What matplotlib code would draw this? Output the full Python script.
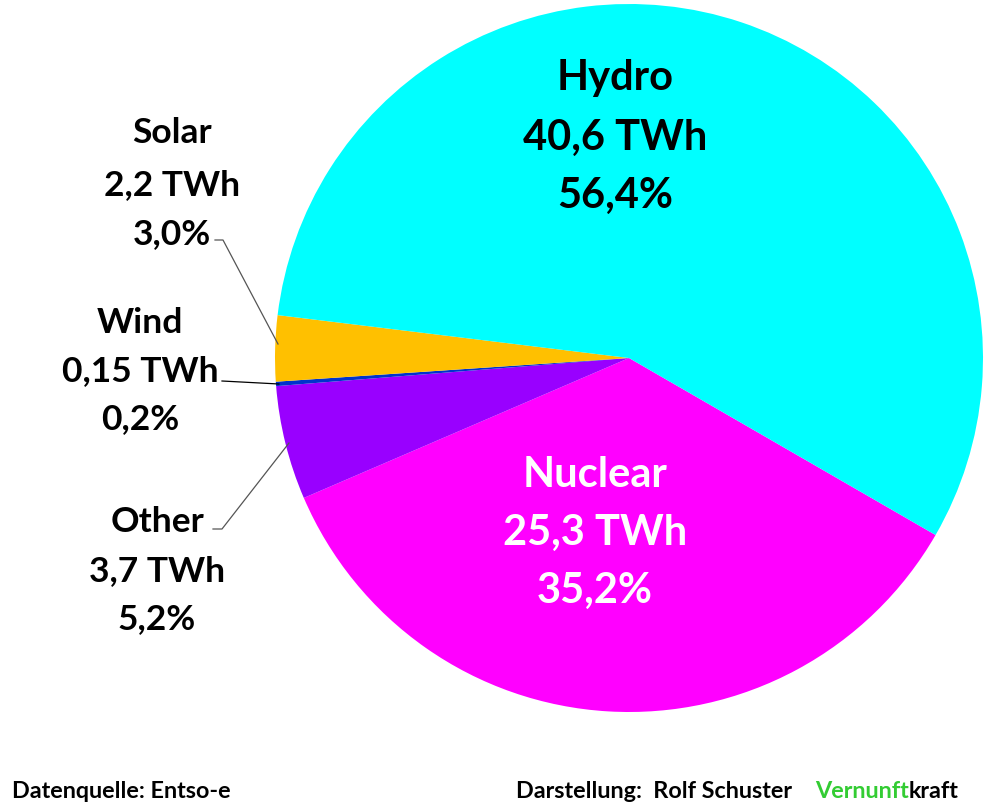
import matplotlib.pyplot as plt

# data, clockwise starting at the lower right
sources = ["Nuclear", "Other", "Wind", "Solar", "Hydro"]
twh_labels = ["25,3", "3,7", "0,15", "2,2", "40,6"]
shares = [35.2, 5.2, 0.2, 3.0, 56.4]
colors = ["#ff00ff", "#9900ff", "#0033cc", "#ffc000", "#00ffff"]

W, H = 988, 806
fig = plt.figure(figsize=(W / 100, H / 100), dpi=100)
ax = fig.add_axes([0, 0, 1, 1])

cx, cy, r = 629, H - 358, 354
ax.pie(shares, colors=colors, startangle=-30, counterclock=False,
       center=(cx, cy), radius=r, wedgeprops=dict(linewidth=0))
ax.set_xlim(0, W)
ax.set_ylim(0, H)
ax.set_aspect("equal")
ax.axis("off")

font = "Lato"

def label(i, x, ys, size, color="black"):
    lines = [sources[i], f"{twh_labels[i]} TWh", f"{shares[i]:.1f}%".replace(".", ",")]
    for txt, y in zip(lines, ys):
        ax.text(x, H - y, txt, ha="center", va="center", fontsize=size,
                fontweight="bold", color=color, family=font)

label(4, 615, [78, 138, 196], 30)
label(0, 595, [475, 533, 591], 30, "white")
label(3, 172, [133, 185, 234], 25.5)
label(2, 140, [323, 371, 419], 25.5)
label(1, 157, [522, 571, 619], 25.5)

# leader lines for the small slices
lc = dict(color="#555555", lw=0.9)
ax.plot([215, 223, 278], [H - 240, H - 240, H - 344], **lc)
ax.plot([222, 279], [H - 381, H - 384], color="black", lw=0.9)
ax.plot([213, 222, 289], [H - 529, H - 529, H - 443], **lc)

# footer
fs = 16.8
ax.text(12, H - 792, "Datenquelle: Entso-e", ha="left", va="center",
        fontsize=fs, fontweight="bold", family=font)
ax.text(516, H - 792, "Darstellung:  Rolf Schuster", ha="left", va="center",
        fontsize=fs, fontweight="bold", family=font)
t = ax.text(815, H - 792, "Vernunft", ha="left", va="center",
            fontsize=fs, fontweight="bold", family=font, color="#33cc33")
ax.annotate("kraft", xy=(1, 0.5), xycoords=t, ha="left", va="center",
            fontsize=fs, fontweight="bold", family=font)

fig.savefig("out.png", dpi=100, facecolor="white")
